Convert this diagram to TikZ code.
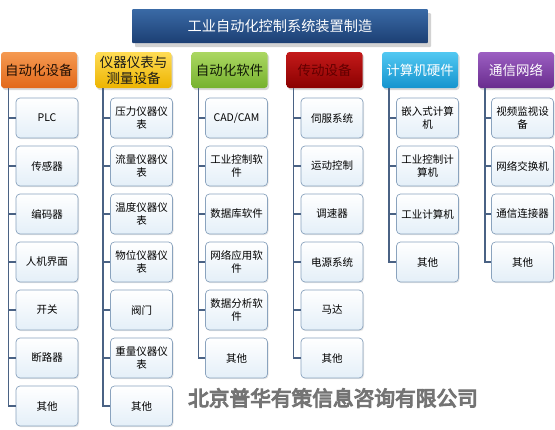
\documentclass[tikz,border=0pt]{standalone}
\usepackage{fontspec}
\setmainfont{Noto Sans CJK SC}
\newfontfamily\wmfont[FakeBold=5]{Noto Sans CJK SC}
\usetikzlibrary{shadows,calc}
\definecolor{tblueA}{HTML}{3A6AA6}
\definecolor{tblueB}{HTML}{1C3F73}
\definecolor{leafborder}{HTML}{8AA3BE}
\definecolor{leafbot}{HTML}{E4EFF8}
\definecolor{connc}{HTML}{4A6284}
\definecolor{orA}{HTML}{F59A52}\definecolor{orB}{HTML}{E2681A}
\definecolor{yeA}{HTML}{FFDC55}\definecolor{yeB}{HTML}{EDB400}
\definecolor{grA}{HTML}{ABD762}\definecolor{grB}{HTML}{76B22E}
\definecolor{reA}{HTML}{C41A1A}\definecolor{reB}{HTML}{8A0000}
\definecolor{cyA}{HTML}{52C8F2}\definecolor{cyB}{HTML}{1594CE}
\definecolor{puA}{HTML}{9C5FC2}\definecolor{puB}{HTML}{692C8E}
\definecolor{wmgray}{HTML}{747474}
\tikzset{
  titlebox/.style={rounded corners=1pt, minimum width=296pt, minimum height=34pt,
    top color=tblueA, bottom color=tblueB, text=white,
    font=\fontsize{14.2}{16}\selectfont,
    drop shadow={opacity=0.35, shadow xshift=3pt, shadow yshift=-4pt}},
  hdr/.style={rounded corners=3pt, minimum width=76pt, minimum height=36pt, align=center,
    inner sep=1pt, font=\fontsize{13.5}{16}\selectfont,
    drop shadow={opacity=0.3, shadow xshift=1.5pt, shadow yshift=-2pt}},
  leaf/.style={draw=leafborder, line width=0.7pt, rounded corners=4pt, minimum width=62pt,
    minimum height=40pt, align=center, inner sep=1pt, top color=white, bottom color=leafbot,
    font=\fontsize{10.5}{13}\selectfont,
    drop shadow={opacity=0.2, shadow xshift=1pt, shadow yshift=-1.2pt}},
  conn/.style={draw=connc, line width=1.4pt},
  wm/.style={text=wmgray, font=\wmfont\fontsize{20.7}{24}\selectfont}
}
\begin{document}
\begin{tikzpicture}[x=1pt,y=-1pt]
\useasboundingbox[fill=white] (0,0) rectangle (555,429);
% title
\node[titlebox] (title) at (280,26) {工业自动化控制系统装置制造};
% headers
\node[hdr, top color=orA, bottom color=orB, text=black!85!orB] (h1) at (39,70) {自动化设备};
\node[hdr, top color=yeA, bottom color=yeB, text=black!90] (h2) at (133.5,70) {仪器仪表与\\测量设备};
\node[hdr, top color=grA, bottom color=grB, text=black!85!grB] (h3) at (229.5,70) {自动化软件};
\node[hdr, top color=reA, bottom color=reB, text=reB!70!black] (h4) at (324.5,70) {传动设备};
\node[hdr, top color=cyA, bottom color=cyB, text=white] (h5) at (420,70) {计算机硬件};
\node[hdr, top color=puA, bottom color=puB, text=white] (h6) at (516,70) {通信网络};
% column 1
\node[leaf] (c11) at (47,118) {PLC};
\node[leaf] (c12) at (47,166) {传感器};
\node[leaf] (c13) at (47,214) {编码器};
\node[leaf] (c14) at (47,262) {人机界面};
\node[leaf] (c15) at (47,310) {开关};
\node[leaf] (c16) at (47,358) {断路器};
\node[leaf] (c17) at (47,406) {其他};
% column 2
\node[leaf] (c21) at (141.5,118) {压力仪器仪\\表};
\node[leaf] (c22) at (141.5,166) {流量仪器仪\\表};
\node[leaf] (c23) at (141.5,214) {温度仪器仪\\表};
\node[leaf] (c24) at (141.5,262) {物位仪器仪\\表};
\node[leaf] (c25) at (141.5,310) {阀门};
\node[leaf] (c26) at (141.5,358) {重量仪器仪\\表};
\node[leaf] (c27) at (141.5,406) {其他};
% column 3
\node[leaf] (c31) at (236.5,118) {CAD/CAM};
\node[leaf] (c32) at (236.5,166) {工业控制软\\件};
\node[leaf] (c33) at (236.5,214) {数据库软件};
\node[leaf] (c34) at (236.5,262) {网络应用软\\件};
\node[leaf] (c35) at (236.5,310) {数据分析软\\件};
\node[leaf] (c36) at (236.5,358) {其他};
% column 4
\node[leaf] (c41) at (332,118) {伺服系统};
\node[leaf] (c42) at (332,166) {运动控制};
\node[leaf] (c43) at (332,214) {调速器};
\node[leaf] (c44) at (332,262) {电源系统};
\node[leaf] (c45) at (332,310) {马达};
\node[leaf] (c46) at (332,358) {其他};
% column 5
\node[leaf] (c51) at (427.5,118) {嵌入式计算\\机};
\node[leaf] (c52) at (427.5,166) {工业控制计\\算机};
\node[leaf] (c53) at (427.5,214) {工业计算机};
\node[leaf] (c54) at (427.5,262) {其他};
% column 6
\node[leaf] (c61) at (522.5,118) {视频监视设\\备};
\node[leaf] (c62) at (522.5,166) {网络交换机};
\node[leaf] (c63) at (522.5,214) {通信连接器};
\node[leaf] (c64) at (522.5,262) {其他};
% connectors
\foreach \n in {1,...,7}{\draw[conn] ($(h1.south west)+(7.5,0)$) |- (c1\n.west);}
\foreach \n in {1,...,7}{\draw[conn] ($(h2.south west)+(7.5,0)$) |- (c2\n.west);}
\foreach \n in {1,...,6}{\draw[conn] ($(h3.south west)+(7,0)$) |- (c3\n.west);}
\foreach \n in {1,...,6}{\draw[conn] ($(h4.south west)+(7,0)$) |- (c4\n.west);}
\foreach \n in {1,...,4}{\draw[conn] ($(h5.south west)+(7,0)$) |- (c5\n.west);}
\foreach \n in {1,...,4}{\draw[conn] ($(h6.south west)+(7,0)$) |- (c6\n.west);}
% watermark
\node[wm] (wmark) at (333,398) {北京普华有策信息咨询有限公司};
\end{tikzpicture}
\end{document}
